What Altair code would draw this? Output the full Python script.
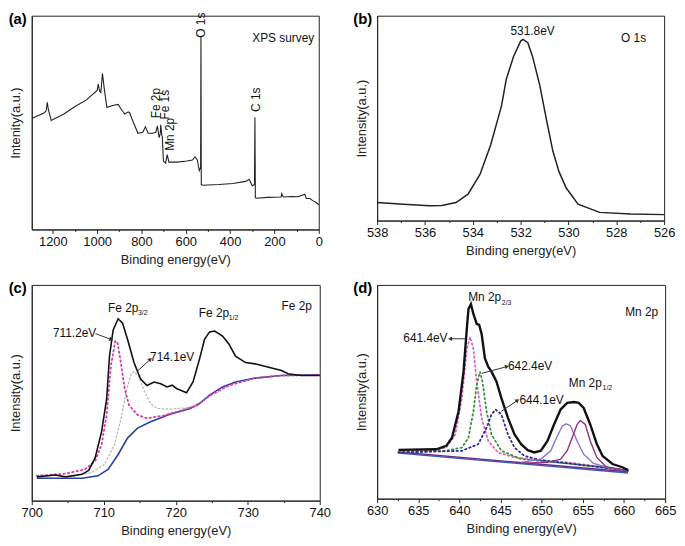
import math
import altair as alt
import pandas as pd

FONT = "Liberation Sans"

# ---------------- (a) XPS survey ----------------
survey_ev = [1293, 1240, 1230, 1225, 1220, 1207, 1150, 1100, 1050, 1000, 995, 988, 983, 976, 968, 956,
             930, 905, 890, 875, 860, 853, 838, 816, 794, 782, 770, 750, 735, 728, 722, 720, 715, 713,
             708, 706, 701, 691, 684, 676, 640, 595, 570, 558, 548, 539, 533, 531.5, 530, 525, 450, 388,
             330, 314, 300, 290, 288, 286, 282, 230, 170, 167, 162, 158, 120, 93, 63, 56, 40, 27, 10, 0]
survey_i = [52, 54.5, 55.5, 59.5, 56, 51, 54, 57.5, 60.5, 65, 68, 64.5, 64, 73, 66, 57,
            58, 58.5, 56, 54, 55, 54.5, 50.5, 45, 45.5, 48, 45, 45, 45.5, 48.5, 44, 43, 45, 49,
            44, 43.5, 32, 31, 35, 31.5, 31.5, 32, 32.5, 34, 32.5, 27.5, 29, 90.5, 21, 20.7, 21, 21.5,
            22.5, 23.5, 20.5, 21, 52.5, 15, 14.6, 15, 15.2, 16.8, 15.5, 15.2, 15.4, 15.3, 16.5, 14.5, 14.5, 13.5, 12.5, 11.5]

# ---------------- (b) O 1s ----------------
o1s_ev = [538, 536.9, 535.8, 535.3, 534.7, 534.2, 533.7, 533.25, 532.8, 532.6, 532.3, 532.0, 531.9,
          531.7, 531.5, 531.2, 530.9, 530.65, 530.4, 530.1, 529.6, 528.7, 527.4, 526]
o1s_i = [8.8, 8, 7.2, 7.4, 8.8, 12.9, 22.5, 37, 56, 69, 80, 87.6, 88.4,
         86.8, 80, 66, 48, 33.8, 24, 16, 8, 4, 3.2, 2.9]

# ---------------- (c) Fe 2p ----------------
fe_ev = [700.7, 703.3, 704.7, 707, 707.9, 708.8, 709.7, 710.4, 710.8, 711.3, 712, 712.6, 713.3, 714.2,
         715.1, 716, 717, 717.9, 718.8, 719.5, 720.1, 721.5, 722.4, 723.3, 724, 724.7, 725.4, 726.5,
         727.4, 728.3, 729.7, 731, 732.9, 734.7, 735.6, 737.4, 740]
fe_i = [11, 11.9, 11, 12.2, 14, 19.8, 32, 47, 67, 79, 84.3, 82.4, 74.8, 64,
        56.5, 53.4, 55, 54.2, 52.7, 53.5, 52, 50, 55, 65.6, 74.8, 78.2, 78.6, 76.3,
        72.5, 67, 64, 63.4, 61.8, 60.3, 58.8, 58, 58]
fe_bg_ev = [700.7, 707, 709.2, 710.6, 712, 713.3, 714.7, 716.5, 719.2, 722, 723.3, 724.7, 726.5, 728.3, 731, 734.7, 740]
fe_bg_i = [10.4, 10.4, 11.5, 14.5, 21.4, 29, 33.6, 36.6, 40, 42.7, 45, 48.9, 52.7, 55, 56.8, 58, 58.3]
fe_p1_ev = [700.7, 704.7, 707.4, 708.8, 709.7, 710.4, 711.0, 711.6, 711.9, 712.3, 712.9, 713.5, 714.7, 716,
            718.3, 721, 722.9, 724.7, 727.4, 731, 734.7, 740]
fe_p1_i = [11.5, 12.5, 14.5, 18.3, 26, 39.7, 62.6, 74, 73.3, 65.6, 52, 44.3, 39.7, 38.2,
           39.4, 42, 44, 48.6, 53.4, 56.8, 58, 58.3]
fe_p2_ev = [704.7, 708.3, 710.1, 711.5, 712.4, 713.1, 713.8, 714.2, 714.9, 715.6, 716.5, 717.4, 719.2,
            721.5, 722.9]
fe_p2_i = [10.7, 13, 16.8, 26, 38, 50.4, 58.8, 59.8, 57.3, 51, 45, 42.7, 42.4, 43, 44.3]

# ---------------- (d) Mn 2p ----------------
mn_ev = [632.6, 637.2, 638.4, 639.1, 639.9, 640.5, 640.9, 641.1, 641.4, 641.7, 642.1, 642.4, 642.7, 643.1,
         643.5, 643.9, 644.5, 645.1, 645.9, 646.7, 647.5, 648.3, 649.1, 649.9, 650.7, 651.5, 652.3, 653.1,
         653.9, 654.5, 655.1, 655.9, 656.7, 657.4, 658.6, 659.8, 660.5]
mn_i = [22.8, 23.1, 24.7, 28.5, 40.9, 59.4, 79.5, 88.7, 91, 86.4, 81.8, 81.3, 77, 65.6,
        61.7, 59.4, 54.8, 47, 37.8, 30, 25.5, 22.7, 21.6, 22.4, 27, 34.7, 41.7, 44.8,
        45.2, 44.8, 42.4, 34.7, 25.5, 20, 16.2, 14.7, 13.4]
mn_base_ev = [632.6, 660.5]
mn_base_blue_i = [21.3, 12.0]
mn_base_purple_i = [21.8, 12.6]
mn_p1_ev = [632.6, 636.4, 638.4, 639.5, 640.3, 640.9, 641.3, 641.7, 642.1, 642.7, 643.5, 644.7, 646.7,
            649.9, 653.1, 657.0, 660.5]
mn_p1_i = [21.9, 22.4, 23.9, 30, 47, 70.2, 75.6, 70.2, 54.8, 37.8, 27, 21.6, 19.3, 18, 17, 15, 13.1]
mn_p2_ev = [632.6, 638.4, 640.3, 641.1, 641.7, 642.1, 642.5, 642.8, 643.3, 643.9, 645.1, 647.5, 653.1, 657.0, 660.5]
mn_p2_i = [21.6, 22.4, 23.9, 28.5, 40.9, 53.2, 59.4, 54.8, 40.9, 30, 22.4, 18.5, 16.5, 14.9, 13.1]
mn_p3_ev = [632.6, 640.3, 642.3, 643.3, 643.9, 644.4, 645.1, 645.9, 646.7, 647.9, 649.9, 653.1, 657.1, 660.5]
mn_p3_i = [21.6, 22.4, 25.5, 33.2, 39.4, 41.7, 39.4, 30, 23.9, 20, 18, 16.5, 14.7, 13.1]
mn_p4_ev = [647.5, 649.9, 651.1, 651.9, 652.5, 653.0, 653.5, 654.3, 655.1, 656.3, 658.2, 660.5]
mn_p4_i = [17, 18.5, 22.4, 29.3, 34, 35, 34, 27, 20.8, 16.5, 14.4, 13.1]
mn_p5_ev = [647.5, 650.7, 652.3, 653.1, 653.7, 654.3, 654.7, 655.3, 655.9, 656.7, 657.8, 660.5]
mn_p5_i = [16.5, 17, 18.5, 22.4, 28.5, 34.7, 36.6, 34.7, 27, 19.3, 15, 13.1]

# tick values
a_ticks = [1300, 1200, 1100, 1000, 900, 800, 700, 600, 500, 400, 300, 200, 100, 0]
b_ticks = [538, 537, 536, 535, 534, 533, 532, 531, 530, 529, 528, 527, 526]
c_ticks = [700, 705, 710, 715, 720, 725, 730, 735, 740]
d_ticks = [630, 632.5, 635, 637.5, 640, 642.5, 645, 647.5, 650, 652.5, 655, 657.5, 660, 662.5, 665]


def df(x, y):
    return pd.DataFrame({"eV": x, "I": y})


def panel(label, dom, rev, W, H, ticks, major, ytitle, curves, texts, arrows):
    xaxis = alt.Axis(title="Binding energy(eV)", values=ticks, format="d",
                     labelExpr=f"datum.value % {major} === 0 ? datum.label : ''",
                     tickSize={"condition": {"test": f"datum.value % {major} === 0", "value": 4}, "value": 2},
                     labelPadding=2, titlePadding=5, grid=False, labelFlush=False)
    yaxis = alt.Axis(title=ytitle, labels=False, ticks=False, grid=False, titlePadding=9)
    xs = alt.Scale(domain=dom, reverse=rev, nice=False, zero=False)
    ys = alt.Scale(domain=[0, 100], nice=False, zero=False)

    def X(f="eV"):
        return alt.X(f"{f}:Q", scale=xs, axis=xaxis)

    def Y(f="I"):
        return alt.Y(f"{f}:Q", scale=ys, axis=yaxis)

    layers = []
    for d, color, sw, dash in curves:
        mk = dict(color=color, strokeWidth=sw, interpolate="linear")
        if dash:
            mk["strokeDash"] = dash
            mk["strokeCap"] = "round"
        layers.append(alt.Chart(d).mark_line(**mk).encode(x=X(), y=Y(), order="idx:Q")
                      .transform_window(idx="row_number()"))
    for t in texts:
        ev, iv, s, size, align, angle = t
        mk = dict(fontSize=size, font=FONT, align=align, baseline="middle", color="#111")
        if angle:
            mk["angle"] = angle
        layers.append(alt.Chart(pd.DataFrame({"eV": [ev], "I": [iv], "t": [s]}))
                      .mark_text(**mk).encode(x=X(), y=Y(), text="t:N"))
    if arrows:
        span = dom[1] - dom[0]
        sx = W / span * (-1 if rev else 1)
        sy = -H / 100.0
        rows = []
        for x1, y1, x2, y2 in arrows:
            dx = (x2 - x1) * sx
            dy = (y2 - y1) * sy
            ang = math.degrees(math.atan2(dx, -dy)) % 360
            rows.append({"x1": x1, "y1": y1, "x2": x2, "y2": y2, "ang": ang})
        ad = pd.DataFrame(rows)
        layers.append(alt.Chart(ad).mark_rule(color="#333", strokeWidth=1)
                      .encode(x=X("x1"), y=Y("y1"), x2="x2:Q", y2="y2:Q"))
        layers.append(alt.Chart(ad).mark_point(shape="triangle", filled=True, size=22, color="#333", opacity=1)
                      .encode(x=X("x2"), y=Y("y2"), angle=alt.Angle("ang:Q", scale=None)))
    layers.append(alt.Chart(pd.DataFrame({"t": [label]}))
                  .mark_text(fontSize=15, fontWeight="bold", font=FONT, align="right", baseline="middle", color="#000")
                  .encode(x=alt.value(-5), y=alt.value(3), text="t:N"))
    return alt.layer(*layers).properties(width=W, height=H)


pa = panel("(a)", [0, 1295], True, 290, 216, a_ticks, 200, "Intenity(a.u.)",
           [(df(survey_ev, survey_i), "#222", 1.1, None)],
           [(300, 89.7, "XPS survey", 12, "left", 0),
            (529, 89.7, "O 1s", 12, "left", 270),
            (285, 55, "C 1s", 12, "left", 270),
            (732, 52, "Fe 2p", 12, "left", 270),
            (692, 51.4, "Fe 1s", 12, "left", 270),
            (672, 36.8, "Mn 2p", 12, "left", 270)],
           [])

pb = panel("(b)", [526, 538], True, 290, 207, b_ticks, 2, "Intensity(a.u.)",
           [(df(o1s_ev, o1s_i), "#222", 1.5, None)],
           [(531.5, 92.6, "531.8eV", 12, "center", 0),
            (527.8, 89.2, "O 1s", 12, "left", 0)],
           [])

pc = panel("(c)", [700, 740], False, 291, 218, c_ticks, 10, "Intensity(a.u.)",
           [(df(fe_bg_ev, fe_bg_i), "#2c3f9e", 1.6, None),
            (df(fe_p2_ev, fe_p2_i), "#b5c2b5", 1.4, [1.5, 2.5]),
            (df(fe_p1_ev, fe_p1_i), "#d040a8", 1.8, [1.5, 3]),
            (df(fe_ev, fe_i), "#111", 1.6, None)],
           [(705.95, 77.9, "711.2eV", 12, "center", 0),
            (719.5, 66.4, "714.1eV", 12, "center", 0),
            (710.6, 89.3, "Fe 2p", 12, "left", 0),
            (714.75, 87.0, "3/2", 7, "left", 0),
            (723.2, 87, "Fe 2p", 12, "left", 0),
            (727.35, 84.7, "1/2", 7, "left", 0),
            (734.7, 90, "Fe 2p", 12, "left", 0)],
           [(708.86, 77.4, 710.95, 74.8),
            (714.6, 59.8, 716.4, 65.3)])

pd_ = panel("(d)", [630, 665], False, 291, 216, d_ticks, 5, "Intensity(a.u.)",
            [(df(mn_base_ev, mn_base_blue_i), "#3b5bb5", 1.4, None),
             (df(mn_base_ev, mn_base_purple_i), "#6a2c8a", 1.4, None),
             (df(mn_p1_ev, mn_p1_i), "#e060b8", 1.8, [1.5, 3]),
             (df(mn_p2_ev, mn_p2_i), "#3a8f3a", 1.8, [1.5, 3]),
             (df(mn_p3_ev, mn_p3_i), "#2a2a9a", 1.8, [1.5, 3]),
             (df(mn_p4_ev, mn_p4_i), "#8a72d0", 1.4, None),
             (df(mn_p5_ev, mn_p5_i), "#95307f", 1.4, None),
             (df(mn_ev, mn_i), "#111", 2.4, None)],
            [(641.06, 94.1, "Mn 2p", 12, "left", 0),
             (645.15, 91.5, "2/3", 7, "left", 0),
             (653.3, 54, "Mn 2p", 12, "left", 0),
             (657.4, 51.7, "1/2", 7, "left", 0),
             (660.15, 87.5, "Mn 2p", 12, "left", 0),
             (638.55, 75.3, "641.4eV", 12, "right", 0),
             (645.9, 62.2, "642.4eV", 12, "left", 0),
             (647.3, 46.3, "644.1eV", 12, "left", 0)],
            [(640.8, 74.8, 638.95, 74.8),
             (642.7, 58.6, 645.7, 61.7),
             (645.1, 40.9, 647.0, 45.8)])

chart = (alt.concat(pa, pb, pc, pd_, columns=2, bounds="flush", spacing={"row": 56, "column": 58})
         .properties(padding=0, background="white")
         .configure_view(stroke="#222", strokeWidth=1)
         .configure_axis(labelFont=FONT, titleFont=FONT, labelFontSize=13, titleFontSize=13,
                         titleFontWeight="normal", labelColor="#111", titleColor="#222",
                         domainColor="#222", tickColor="#222"))

chart.save("out.html", embed_options={"renderer": "svg", "actions": False})
